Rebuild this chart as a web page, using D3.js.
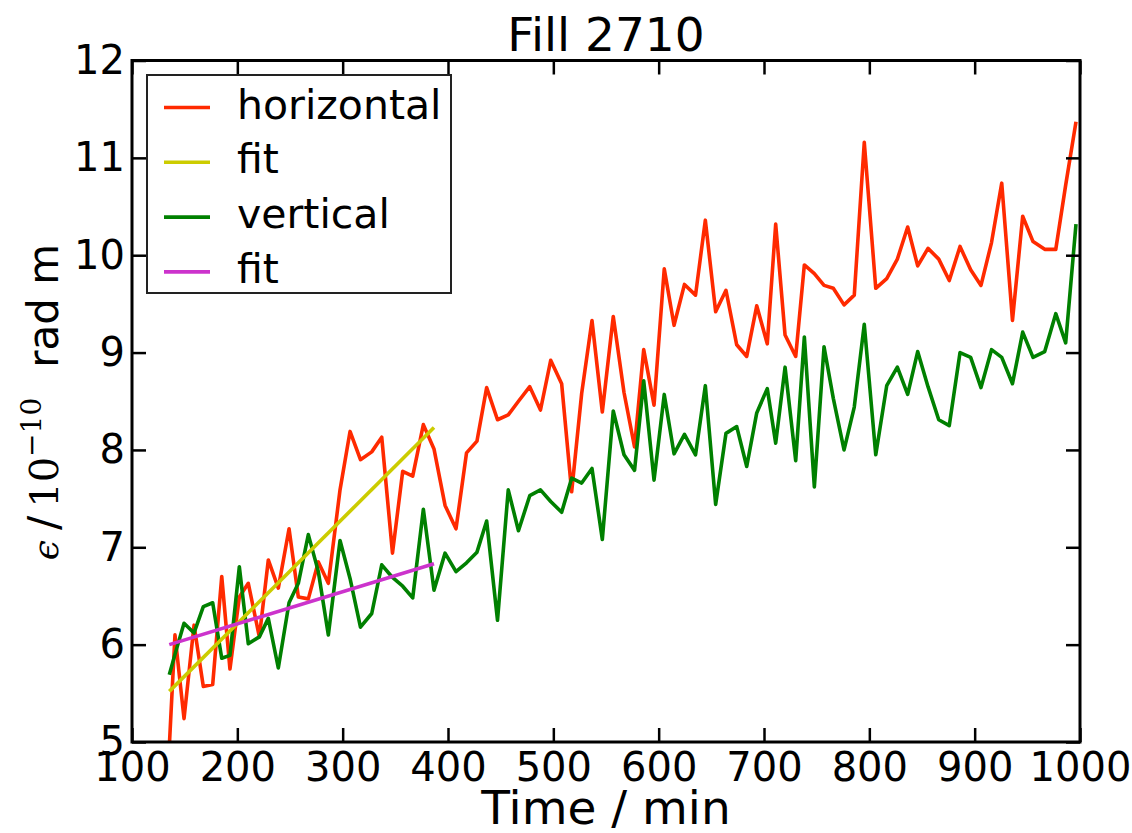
<!DOCTYPE html>
<html>
<head>
<meta charset="utf-8">
<script src="https://cdn.jsdelivr.net/npm/d3@7"></script>
<style>
  body { margin: 0; background: #fff; }
  svg { display: block; }
</style>
</head>
<body>
<svg id="chart"></svg>
<script>
// emittance vs time for fill 2710

// time in minutes, shared by both planes
const times = [135.4, 140.8, 149.4, 158.9, 167.7, 176.6, 185.2, 193.0, 201.9, 210.4,
  220.9, 229.4, 238.9, 249.1, 257.9, 267.4, 276.9, 286.4, 297.5, 307.0,
  316.9, 327.6, 337.1, 347.3, 357.0, 366.5, 376.6, 386.7, 397.2, 407.6,
  417.6, 427.5, 436.7, 447.0, 457.2, 466.9, 477.6, 487.8, 497.5, 507.9,
  517.4, 526.9, 536.7, 546.5, 556.9, 567.1, 577.1, 585.8, 595.6, 605.3,
  614.6, 624.5, 635.0, 644.3, 654.1, 663.9, 674.1, 683.6, 693.1, 703.1,
  711.1, 720.0, 730.1, 738.3, 747.8, 757.0, 765.8, 776.0, 785.7, 795.2,
  806.1, 816.5, 826.6, 836.4, 845.9, 855.7, 865.9, 875.9, 886.1, 896.2,
  906.0, 916.0, 925.7, 935.9, 945.6, 955.4, 966.5, 977.0, 986.4, 996.2];

const horizontal = [4.95, 6.10, 5.24, 6.20, 5.57, 5.59, 6.70, 5.75, 6.49, 6.63,
  6.08, 6.87, 6.58, 7.19, 6.49, 6.47, 6.85, 6.63, 7.59, 8.19,
  7.90, 7.98, 8.13, 6.94, 7.78, 7.73, 8.26, 8.01, 7.43, 7.19,
  7.97, 8.09, 8.64, 8.31, 8.36, 8.50, 8.65, 8.41, 8.92, 8.68,
  7.57, 8.58, 9.33, 8.39, 9.37, 8.59, 8.03, 9.03, 8.46, 9.86,
  9.28, 9.70, 9.59, 10.36, 9.42, 9.64, 9.08, 8.96, 9.48, 9.09,
  10.32, 9.18, 8.96, 9.90, 9.81, 9.69, 9.66, 9.49, 9.59, 11.16,
  9.66, 9.76, 9.96, 10.29, 9.89, 10.07, 9.96, 9.74, 10.09, 9.85,
  9.69, 10.13, 10.74, 9.33, 10.40, 10.14, 10.06, 10.06, 10.72, 11.37];

const vertical = [5.69, 5.90, 6.22, 6.12, 6.39, 6.43, 5.86, 5.89, 6.80, 6.01,
  6.08, 6.27, 5.76, 6.43, 6.63, 7.13, 6.75, 6.10, 7.07, 6.68,
  6.18, 6.32, 6.82, 6.69, 6.60, 6.48, 7.39, 6.56, 6.94, 6.75,
  6.84, 6.95, 7.27, 6.25, 7.59, 7.17, 7.53, 7.59, 7.47, 7.36,
  7.71, 7.66, 7.81, 7.08, 8.40, 7.95, 7.79, 8.71, 7.69, 8.57,
  7.96, 8.16, 7.95, 8.66, 7.44, 8.17, 8.24, 7.83, 8.38, 8.63,
  8.07, 8.85, 7.89, 9.16, 7.62, 9.06, 8.53, 8.00, 8.44, 9.29,
  7.95, 8.66, 8.85, 8.57, 9.01, 8.65, 8.31, 8.25, 9.00, 8.95,
  8.64, 9.03, 8.95, 8.68, 9.21, 8.95, 9.01, 9.40, 9.10, 10.32];

// linear fits over the first part of the fill
const fitTimes = [135.4, 386.7];
const fitH = [5.52, 8.23];
const fitV = [6.00, 6.83];

const xTicks = [100, 200, 300, 400, 500, 600, 700, 800, 900, 1000];
const yTicks = [5, 6, 7, 8, 9, 10, 11, 12];

const legendNames = ["horizontal", "fit", "vertical", "fit"];
const colors = ["#ff2a00", "#cccc00", "#008000", "#cc33cc"];

const W = 1132, H = 833;
const pLeft = 132, pRight = 1080, pTop = 60.5, pBottom = 742;
const sans = "'DejaVu Sans', sans-serif";
const serif = "'DejaVu Serif', serif";

let svg = d3.select("#chart")
    .attr("width", W)
    .attr("height", H)
    .style("font-family", sans);

svg.append("rect").attr("width", W).attr("height", H).attr("fill", "#fff");

let x = d3.scaleLinear().domain([100, 1000]).range([pLeft, pRight]);
let y = d3.scaleLinear().domain([5, 12]).range([pBottom, pTop]);

svg.append("clipPath").attr("id", "plotclip")
    .append("rect")
    .attr("x", pLeft).attr("y", pTop)
    .attr("width", pRight - pLeft).attr("height", pBottom - pTop);

let series = [
    {t: times, v: horizontal},
    {t: fitTimes, v: fitH},
    {t: times, v: vertical},
    {t: fitTimes, v: fitV}
];

let line = d3.line()
    .x(d => x(d[0]))
    .y(d => y(d[1]));

// draw order: data first, fits on top
let plot = svg.append("g").attr("clip-path", "url(#plotclip)");
[0, 2, 1, 3].forEach(i => {
    let s = series[i];
    plot.append("path")
        .attr("d", line(s.t.map((t, k) => [t, s.v[k]])))
        .attr("fill", "none")
        .attr("stroke", colors[i])
        .attr("stroke-width", 3.6)
        .attr("stroke-linejoin", "round");
});

//axes with inward ticks on all four sides
let tickLen = 14;
let fmt = d3.format("d");
svg.append("g")
    .attr("transform", `translate(0,${pBottom})`)
    .call(d3.axisBottom(x).tickValues(xTicks).tickFormat(fmt).tickSizeInner(-tickLen).tickSizeOuter(0).tickPadding(11));
svg.append("g")
    .attr("transform", `translate(${pLeft},0)`)
    .call(d3.axisLeft(y).tickValues(yTicks).tickFormat(fmt).tickSizeInner(-tickLen).tickSizeOuter(0).tickPadding(7));
svg.append("g")
    .attr("transform", `translate(0,${pTop})`)
    .call(d3.axisTop(x).tickValues(xTicks).tickSizeInner(-tickLen).tickSizeOuter(0).tickFormat(""));
svg.append("g")
    .attr("transform", `translate(${pRight},0)`)
    .call(d3.axisRight(y).tickValues(yTicks).tickSizeInner(-tickLen).tickSizeOuter(0).tickFormat(""));

svg.selectAll(".domain").remove();
svg.selectAll(".tick line").attr("stroke", "#000").attr("stroke-width", 2.5);
svg.selectAll(".tick text")
    .attr("font-family", sans)
    .attr("font-size", "40px")
    .attr("fill", "#000");

// frame
svg.append("rect")
    .attr("x", pLeft).attr("y", pTop)
    .attr("width", pRight - pLeft).attr("height", pBottom - pTop)
    .attr("fill", "none")
    .attr("stroke", "#000")
    .attr("stroke-width", 3);

// title and labels
svg.append("text")
    .attr("x", (pLeft + pRight) / 2).attr("y", 51)
    .attr("text-anchor", "middle")
    .attr("font-size", "47px")
    .text("Fill 2710");

svg.append("text")
    .attr("x", (pLeft + pRight) / 2).attr("y", 824)
    .attr("text-anchor", "middle")
    .attr("font-size", "47px")
    .text("Time / min");

let ylab = svg.append("text")
    .attr("transform", "translate(58,402) rotate(-90)")
    .attr("text-anchor", "middle")
    .attr("font-size", "42px");
ylab.append("tspan").attr("font-family", serif).attr("font-style", "italic").attr("font-size", "36px").text("ϵ");
ylab.append("tspan").attr("dx", 10).text("/");
ylab.append("tspan").attr("dx", 8).attr("font-family", serif).attr("font-size", "40px").text("10");
ylab.append("tspan").attr("dy", -17).attr("font-family", serif).attr("font-size", "28px").text("−10");
ylab.append("tspan").attr("dy", 17).attr("dx", 30).text("rad m");

// legend
let lg = svg.append("g");
lg.append("rect")
    .attr("x", 147).attr("y", 75)
    .attr("width", 304).attr("height", 218)
    .attr("fill", "#fff")
    .attr("stroke", "#222")
    .attr("stroke-width", 2);
legendNames.forEach((name, i) => {
    let ly = 107.5 + i * 54.8;
    lg.append("line")
        .attr("x1", 164).attr("x2", 210)
        .attr("y1", ly).attr("y2", ly)
        .attr("stroke", colors[i])
        .attr("stroke-width", 3.6);
    lg.append("text")
        .attr("x", 237).attr("y", ly + 11)
        .attr("font-size", "41px")
        .text(name);
});
</script>
</body>
</html>
